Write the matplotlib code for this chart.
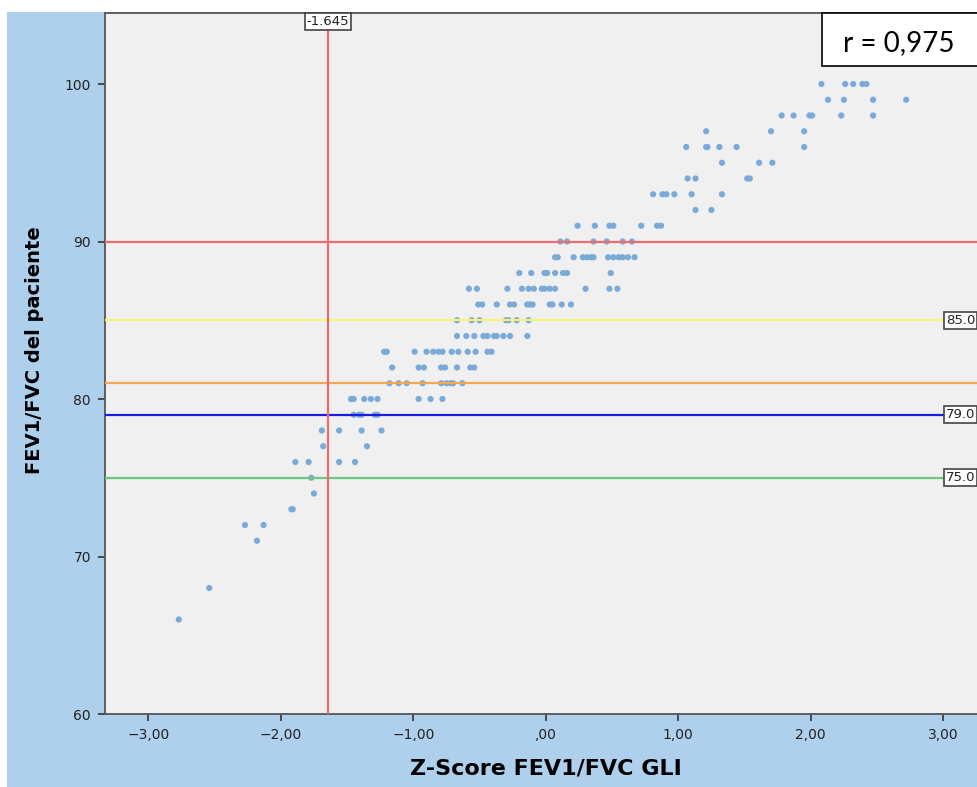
import matplotlib
matplotlib.use("Agg")
import matplotlib.pyplot as plt
from matplotlib.patches import Rectangle

# FEV1/FVC of the patient (integer rows) and the Z-scores read for each row
rows = {
    100: [2.08, 2.26, 2.32, 2.39, 2.42],
    99: [2.13, 2.25, 2.47, 2.72],
    98: [1.78, 1.87, 1.99, 2.01, 2.23, 2.47],
    97: [1.21, 1.70, 1.95],
    96: [1.06, 1.21, 1.22, 1.31, 1.44, 1.95],
    95: [1.33, 1.61, 1.71],
    94: [1.07, 1.13, 1.52, 1.54],
    93: [0.81, 0.88, 0.91, 0.97, 1.10, 1.33],
    92: [1.13, 1.25],
    91: [0.24, 0.37, 0.48, 0.51, 0.72, 0.84, 0.87],
    90: [0.11, 0.16, 0.36, 0.46, 0.58, 0.65],
    89: [0.07, 0.09, 0.21, 0.28, 0.31, 0.34, 0.36, 0.47, 0.51, 0.55, 0.58, 0.62, 0.67],
    88: [-0.20, -0.11, -0.01, 0.01, 0.07, 0.13, 0.16, 0.49],
    87: [-0.58, -0.52, -0.29, -0.18, -0.13, -0.09, -0.03, -0.01, 0.03, 0.07, 0.30, 0.48, 0.54],
    86: [-0.51, -0.48, -0.37, -0.27, -0.24, -0.14, -0.12, -0.10, 0.03, 0.05, 0.12, 0.19],
    85: [-0.67, -0.56, -0.50, -0.30, -0.28, -0.22, -0.13],
    84: [-0.67, -0.60, -0.54, -0.47, -0.44, -0.39, -0.37, -0.32, -0.27, -0.14],
    83: [-1.22, -1.20, -0.99, -0.90, -0.85, -0.81, -0.78, -0.71, -0.66, -0.59, -0.53, -0.44, -0.41],
    82: [-1.16, -0.96, -0.92, -0.79, -0.76, -0.67, -0.57, -0.54],
    81: [-1.18, -1.11, -1.05, -0.93, -0.79, -0.75, -0.72, -0.70, -0.63],
    80: [-1.47, -1.45, -1.37, -1.32, -1.27, -0.96, -0.87, -0.78],
    79: [-1.45, -1.41, -1.39, -1.29, -1.27],
    78: [-1.69, -1.56, -1.39, -1.24],
    77: [-1.68, -1.35],
    76: [-1.89, -1.79, -1.56, -1.44],
    75: [-1.77],
    74: [-1.75],
    73: [-1.92, -1.91],
    72: [-2.27, -2.13],
    71: [-2.18],
    68: [-2.54],
    66: [-2.77],
}

hlines = [90, 85, 81, 79, 75]
hline_colors = ["#f06a6e", "#f7f27c", "#f6a550", "#1c1ce0", "#6cc87c"]
hline_labels = {85: "85.0", 79: "79.0", 75: "75.0"}
z_cut = -1.645

xticks = [-3, -2, -1, 0, 1, 2, 3]
xtick_labels = ["\u22123,00", "\u22122,00", "\u22121,00", ",00", "1,00", "2,00", "3,00"]
yticks = [60, 70, 80, 90, 100]

xs, ys = [], []
for y, zs in rows.items():
    for z in zs:
        xs.append(z)
        ys.append(y)

W, H = 977, 787
fig = plt.figure(figsize=(W / 100, H / 100), dpi=100, facecolor="white")
fig.patches.append(Rectangle((7 / W, 0), 1, 1 - 12 / H, transform=fig.transFigure,
                             facecolor="#aed0ed", edgecolor="none", zorder=-5))

ax = fig.add_axes([105 / W, 1 - 714 / H, (995 - 105) / W, (714 - 13) / H])
ax.set_zorder(1)
ax.set_facecolor("#f0f0f0")
ax.set_xlim((105 - 545.8) / 132.5, (995 - 545.8) / 132.5)
ax.set_ylim(60, 100 + (84 - 13) / 15.75)

ax.scatter(xs, ys, s=20, color="#7aaad8", edgecolors="none", zorder=2)

for y, c in zip(hlines, hline_colors):
    ax.axhline(y, color=c, lw=1.6, zorder=3)
ax.axvline(z_cut, color="#f06a6e", lw=1.6, zorder=3)

box = dict(boxstyle="square,pad=0.15", facecolor="white", edgecolor="#444444", lw=1.2)
ax.text(z_cut, 0.997, "-1.645", transform=ax.get_xaxis_transform(), ha="center", va="top",
        fontsize=9.5, color="#222222", bbox=box, zorder=5)
for y, lab in hline_labels.items():
    ax.text((946 - 545.8) / 132.5, y, lab, ha="left", va="center", fontsize=9.5,
            color="#222222", bbox=box, zorder=5)

ax.set_xticks(xticks)
ax.set_xticklabels(xtick_labels)
ax.set_yticks(yticks)
ax.tick_params(direction="out", length=5, width=1.2, color="#333333",
               labelsize=10, labelcolor="#222222", pad=5)
for s in ax.spines.values():
    s.set_color("#555555")
    s.set_linewidth(1.3)

ax.set_xlabel("Z-Score FEV1/FVC GLI", fontsize=16, fontweight="bold")
ax.xaxis.set_label_coords((546 - 105) / (995 - 105), -(759 - 714) / (714 - 13))
ax.set_ylabel("FEV1/FVC del paciente", fontsize=14, fontweight="bold")
ax.yaxis.set_label_coords(-(105 - 44) / (995 - 105), (714 - 350) / (714 - 13))

# correlation box in the top right corner
fig.patches.append(Rectangle((822 / W, 1 - 66 / H), 0.3, 53 / H, transform=fig.transFigure,
                             facecolor="white", edgecolor="black", lw=1.2, zorder=10))
fig.text(843 / W, 1 - 43 / H, "r = 0,975", fontsize=20, family="Lato",
         ha="left", va="center", zorder=11)

fig.savefig("out.png", dpi=100)
